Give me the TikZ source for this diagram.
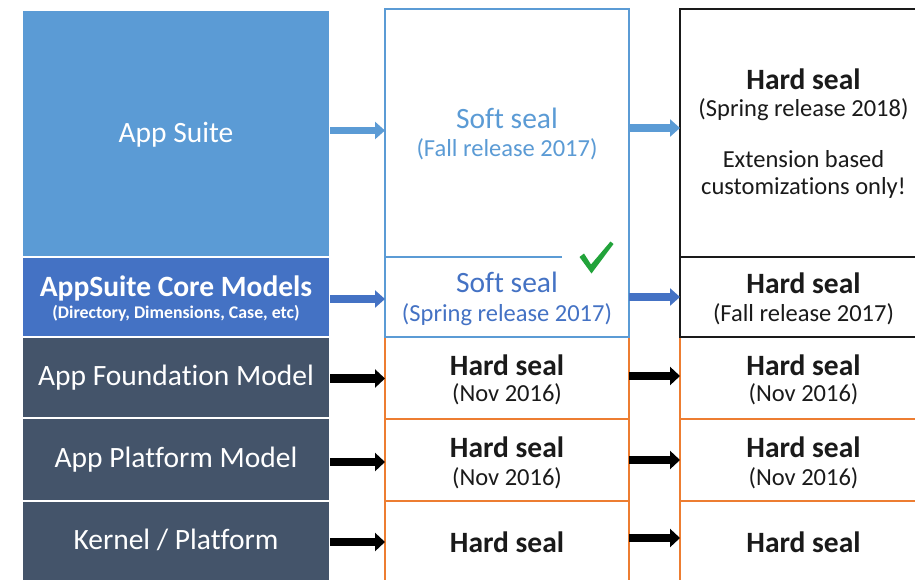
\documentclass[tikz,border=0pt]{standalone}
\usepackage{fontspec}
\setmainfont{Carlito}[Ligatures=NoCommon]
\usetikzlibrary{arrows.meta}
\definecolor{suiteblue}{HTML}{5B9BD5}
\definecolor{coreblue}{HTML}{4472C4}
\definecolor{slate}{HTML}{44546A}
\definecolor{sealorange}{HTML}{ED7D31}
\definecolor{checkgreen}{HTML}{22A33A}
\definecolor{inkblack}{HTML}{1A1A1A}
\tikzset{
  layer/.style={rectangle, inner sep=0pt, outer sep=0pt, draw=white, line width=1.2pt, minimum width=308pt},
  midbox/.style={rectangle, inner sep=0pt, outer sep=0pt, minimum width=244pt},
  rightbox/.style={rectangle, inner sep=0pt, outer sep=0pt, minimum width=247pt},
  orangebox/.style={draw=sealorange, line width=1.4pt},
  blackbox/.style={draw=inkblack, line width=1.4pt},
  txt/.style={inner sep=0pt, outer sep=0pt, anchor=base},
  bigtxt/.style={txt, font=\fontsize{29.5}{35}\selectfont},
  bigbold/.style={txt, font=\fontsize{29.5}{35}\selectfont\bfseries},
  subtxt/.style={txt, font=\fontsize{24.5}{29}\selectfont},
  blockarrow/.style={line width=7.5pt, -{Triangle[length=10pt,width=17pt]}},
  blackarrow/.style={line width=8.5pt, black, -{Triangle[length=10pt,width=18pt]}}
}
\begin{document}
\begin{tikzpicture}[x=1pt,y=-1pt]
\useasboundingbox (0,0) rectangle (915,580);
\clip (0,0) rectangle (915,580);
\fill[white] (0,0) rectangle (915,580);

% left column
\node[layer, fill=suiteblue, minimum height=247pt] (suite) at (176,133.5) {};
\node[layer, fill=coreblue, minimum height=80pt] (core) at (176,297) {};
\node[layer, fill=slate, minimum height=81pt] (found) at (176,377.5) {};
\node[layer, fill=slate, minimum height=83pt] (plat) at (176,459.5) {};
\node[layer, fill=slate, minimum height=89pt] (kern) at (176,545.5) {};

% middle column
\node[midbox, minimum height=82pt, orangebox] (hm1) at (507,378) {};
\node[midbox, minimum height=82pt, orangebox] (hm2) at (507,460) {};
\node[midbox, minimum height=89pt, orangebox] (hm3) at (507,545.5) {};
\node[midbox, minimum height=248pt] (softA) at (507,133) {};
\node[midbox, minimum height=80pt] (softB) at (507,297) {};
\draw[suiteblue, line width=1.4pt] (softA.south west) -- (softA.north west) -- (softA.north east) -- (softB.south east) -- (softB.south west) -- cycle;
\draw[suiteblue, line width=1.4pt] (softA.south west) -- ++(177,0);

% right column
\node[rightbox, minimum height=82pt, orangebox] (hr1) at (803.5,378) {};
\node[rightbox, minimum height=82pt, orangebox] (hr2) at (803.5,460) {};
\node[rightbox, minimum height=89pt, orangebox] (hr3) at (803.5,545.5) {};
\node[rightbox, minimum height=248pt, blackbox] (hardA) at (803.5,133) {};
\node[rightbox, minimum height=80pt, blackbox] (hardB) at (803.5,297) {};

% check mark
\fill[checkgreen] (579.5,257) -- (584,253.5) -- (591,264.5) -- (610.5,241.5) -- (613.5,244) -- (591.5,273.5) -- cycle;

% arrows left -> middle
\draw[blockarrow, suiteblue] ([yshift=3pt]suite.east) -- ([yshift=3pt]suite.east -| softA.west);
\draw[blockarrow, coreblue] ([yshift=-2pt]core.east) -- ([yshift=-2pt]core.east -| softB.west);
\draw[blackarrow] ([yshift=-1pt]found.east) -- ([yshift=-1pt]found.east -| hm1.west);
\draw[blackarrow] ([yshift=-2.5pt]plat.east) -- ([yshift=-2.5pt]plat.east -| hm2.west);
\draw[blackarrow] ([yshift=3.5pt]kern.east) -- ([yshift=3.5pt]kern.east -| hm3.west);

% arrows middle -> right
\draw[blockarrow, suiteblue] ([yshift=5pt]softA.east) -- ([yshift=5pt]softA.east -| hardA.west);
\draw[blockarrow, coreblue] (softB.east) -- (softB.east -| hardB.west);
\draw[blackarrow] ([yshift=2pt]hm1.east) -- ([yshift=2pt]hm1.east -| hr1.west);
\draw[blackarrow] (hm2.east) -- (hm2.east -| hr2.west);
\draw[blackarrow] ([yshift=7.5pt]hm3.east) -- ([yshift=7.5pt]hm3.east -| hr3.west);

% left texts
\node[bigtxt, white] (tsuite) at (176,143) {App Suite};
\node[bigbold, white] (tcore) at (176,296) {AppSuite Core Models};
\node[txt, white, font=\fontsize{17.8}{21}\selectfont\bfseries] (tcoresub) at (176,318) {(Directory, Dimensions, Case, etc)};
\node[bigtxt, white] (tfound) at (176,385) {App Foundation Model};
\node[bigtxt, white] (tplat) at (176,467) {App Platform Model};
\node[bigtxt, white] (tkern) at (176,549) {Kernel / Platform};

% middle texts
\node[bigtxt, suiteblue] (tsoftA) at (507,129) {Soft seal};
\node[subtxt, suiteblue] (tsoftAs) at (507,157) {(Fall release 2017)};
\node[bigtxt, coreblue] (tsoftB) at (507,292) {Soft seal};
\node[subtxt, coreblue] (tsoftBs) at (507,321) {(Spring release 2017)};
\node[bigbold, inkblack] (thm1) at (507,375) {Hard seal};
\node[subtxt, inkblack] (thm1s) at (507,401) {(Nov 2016)};
\node[bigbold, inkblack] (thm2) at (507,457) {Hard seal};
\node[subtxt, inkblack] (thm2s) at (507,485) {(Nov 2016)};
\node[bigbold, inkblack] (thm3) at (507,552) {Hard seal};

% right texts
\node[bigbold, inkblack] (thA) at (803.5,90) {Hard seal};
\node[subtxt, inkblack] (thAs) at (803.5,117) {(Spring release 2018)};
\node[subtxt, inkblack] (thAe1) at (803.5,168) {Extension based};
\node[subtxt, inkblack] (thAe2) at (803.5,195) {customizations only!};
\node[bigbold, inkblack] (thB) at (803.5,293) {Hard seal};
\node[subtxt, inkblack] (thBs) at (803.5,321) {(Fall release 2017)};
\node[bigbold, inkblack] (thr1) at (803.5,375) {Hard seal};
\node[subtxt, inkblack] (thr1s) at (803.5,401) {(Nov 2016)};
\node[bigbold, inkblack] (thr2) at (803.5,457) {Hard seal};
\node[subtxt, inkblack] (thr2s) at (803.5,485) {(Nov 2016)};
\node[bigbold, inkblack] (thr3) at (803.5,552) {Hard seal};
\end{tikzpicture}
\end{document}
